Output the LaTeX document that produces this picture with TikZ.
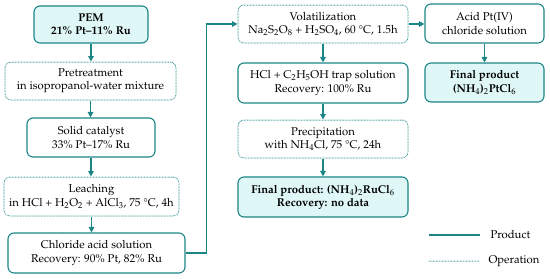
\documentclass[tikz,border=0pt]{standalone}
\usepackage[T1]{fontenc}
\usepackage{mathpazo}
\usetikzlibrary{arrows.meta}
\definecolor{flowteal}{RGB}{27,133,133}
\definecolor{flowfill}{RGB}{223,247,247}

\begin{document}
\begin{tikzpicture}[>={Triangle[length=5.5pt,width=5.5pt]},x=1pt,y=-1pt,
    box/.style={rounded corners=6pt,draw=flowteal,align=center,inner sep=0pt,
        font=\fontsize{11.3}{13.2}\selectfont},
    prod/.style={box,line width=1.1pt},
    dots/.style={line width=1pt,line cap=round,dash pattern=on 0pt off 1.5pt},
    oper/.style={box,dots},
    final/.style={prod,fill=flowfill,font=\fontsize{11.3}{13.2}\selectfont\bfseries},
    flow/.style={->,draw=flowteal,line width=1.4pt}]
            \useasboundingbox (0,0) rectangle (550,279);
            % left column
            \node [final,minimum width=114pt,minimum height=37pt] (pem) at (91,24.5)
                {PEM\\21\% Pt--11\% Ru};
            \node [oper,minimum width=171pt,minimum height=38pt] (pretreat) at (90.5,81)
                {Pretreatment\\in isopropanol-water mixture};
            \node [prod,minimum width=128pt,minimum height=39pt] (solid) at (91,137.5)
                {Solid catalyst\\33\% Pt--17\% Ru};
            \node [oper,minimum width=175pt,minimum height=39pt] (leach) at (91.5,196.5)
                {Leaching\\in HCl + H$_2$O$_2$ + AlCl$_3$, 75~\textdegree C, 4h};
            \node [prod,minimum width=177pt,minimum height=40pt] (chlor) at (96.5,253)
                {Chloride acid solution\\Recovery: 90\% Pt, 82\% Ru};
            % middle column
            \node [oper,minimum width=170pt,minimum height=38pt] (vol) at (323,24)
                {Volatilization\\Na$_2$S$_2$O$_8$ + H$_2$SO$_4$, 60~\textdegree C, 1.5h};
            \node [prod,minimum width=170pt,minimum height=40pt] (trap) at (323,83)
                {HCl + C$_2$H$_5$OH trap solution\\Recovery: 100\% Ru};
            \node [oper,minimum width=170pt,minimum height=38pt] (precip) at (323,139)
                {Precipitation\\with NH$_4$Cl, 75~\textdegree C, 24h};
            \node [final,minimum width=170pt,minimum height=40pt] (ruprod) at (323,197)
                {Final product: (NH$_4$)$_2$RuCl$_6$\\Recovery: no data};
            % right column
            \node [prod,minimum width=119pt,minimum height=39pt] (ptacid) at (484.5,23.5)
                {Acid Pt(IV)\\chloride solution};
            \node [final,minimum width=119pt,minimum height=39pt] (ptprod) at (484.5,82.5)
                {Final product\\(NH$_4$)$_2$PtCl$_6$};
            % connectors
            \draw [flow] (pem.south) -- (pem.south |- pretreat.north);
            \draw [flow] (pretreat.south) -- (pretreat.south |- solid.north);
            \draw [flow] (solid.south) -- (solid.south |- leach.north);
            \draw [flow] (leach.south) -- (leach.south |- chlor.north);
            \draw [flow] (chlor.east) -- ++(21,0) |- (vol.west);
            \draw [flow] (vol.south) -- (trap.north);
            \draw [flow] (trap.south) -- (precip.north);
            \draw [flow] (precip.south) -- (ruprod.north);
            \draw [flow] (vol.east) -- (vol.east -| ptacid.west);
            \draw [flow] (ptacid.south) -- (ptprod.north);
            % legend
            \coordinate (prodA) at (429,235);
            \coordinate (prodB) at (480,235);
            \coordinate (operA) at (429,261);
            \coordinate (operB) at (480,261);
            \draw [draw=flowteal,line width=1.1pt] (prodA) -- (prodB);
            \draw [draw=flowteal,dots] (operA) -- (operB);
            \node [anchor=west,font=\fontsize{11.3}{13.2}\selectfont] (prodlabel) at (487,235) {Product};
            \node [anchor=west,font=\fontsize{11.3}{13.2}\selectfont] (operlabel) at (485,261) {Operation};
        \end{tikzpicture}
\end{document}
